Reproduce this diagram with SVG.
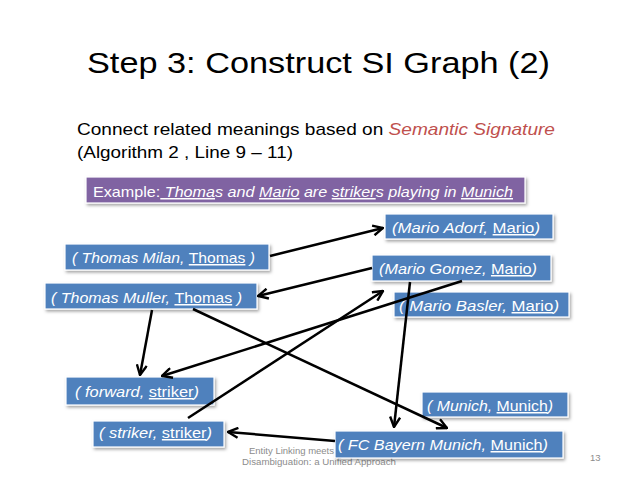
<svg xmlns="http://www.w3.org/2000/svg" width="638" height="479" viewBox="0 0 638 479">
<style>
.title{font-family:"Liberation Sans",Arial,sans-serif;font-size:29px;fill:#000}
.body{font-family:"Liberation Sans",Arial,sans-serif;font-size:17px;fill:#000}
.foot{font-family:"Liberation Sans",Arial,sans-serif;font-size:9.5px;fill:#8c8c8c}
.box{fill:#4f81bd;stroke:#fff;stroke-width:1.2;filter:url(#sh)}
.pbox{fill:#8064a2;stroke:#fff;stroke-width:1.2;filter:url(#sh)}
.nt{font-family:"Liberation Sans",Arial,sans-serif;font-size:15px;fill:#fff;font-style:italic}
.up{font-style:normal}
.u{font-style:normal;text-decoration:underline}
.ui{font-style:italic;text-decoration:underline}
.ed{fill:none;stroke:#000;stroke-width:2.5;marker-end:url(#ah)}
</style>
<defs>
<filter id="sh" x="-10%" y="-30%" width="120%" height="170%">
<feDropShadow dx="1.5" dy="2" stdDeviation="1.5" flood-color="#000" flood-opacity="0.35"/>
</filter>
<marker id="ah" viewBox="0 0 12 12" refX="11" refY="6" markerWidth="12" markerHeight="12" markerUnits="userSpaceOnUse" orient="auto">
<path d="M1,1 L11,6 L1,11" fill="none" stroke="#000" stroke-width="2.4"/>
</marker>
</defs>
<rect width="638" height="479" fill="#fff"/>
<text class="title" x="87" y="73" textLength="463" lengthAdjust="spacingAndGlyphs">Step 3: Construct SI Graph (2)</text>
<text class="body" x="77" y="135" textLength="478" lengthAdjust="spacingAndGlyphs">Connect related meanings based on <tspan font-style="italic" fill="#c0504d">Semantic Signature</tspan></text>
<text class="body" x="77" y="158" textLength="216" lengthAdjust="spacingAndGlyphs">(Algorithm 2 , Line 9 – 11)</text>
<text class="foot" x="249" y="454">Entity Linking meets</text>
<text class="foot" x="242" y="465" textLength="154" lengthAdjust="spacingAndGlyphs">Disambiguation: a Unified Approach</text>
<text class="foot" x="590" y="461">13</text>
<g id="example">
<rect class="pbox" x="86" y="177" width="439" height="26"/>
<text class="nt" x="93" y="197" textLength="420" lengthAdjust="spacingAndGlyphs"><tspan class="up">Example:</tspan><tspan class="ui"> Thoma</tspan>s and <tspan class="ui">Mario</tspan> are <tspan class="ui">striker</tspan>s playing in <tspan class="ui">Munich</tspan></text>
</g>
<g id="thomas-milan">
<rect class="box" x="65" y="244" width="204" height="26"/>
<text class="nt" x="72" y="263" textLength="183" lengthAdjust="spacingAndGlyphs">( Thomas Milan, <tspan class="u">Thomas</tspan> )</text>
</g>
<g id="thomas-muller">
<rect class="box" x="45" y="283" width="212" height="26"/>
<text class="nt" x="51" y="303" textLength="191" lengthAdjust="spacingAndGlyphs">( Thomas Muller, <tspan class="u">Thomas</tspan> )</text>
</g>
<g id="mario-adorf">
<rect class="box" x="385" y="214" width="168" height="25"/>
<text class="nt" x="392" y="233" textLength="148" lengthAdjust="spacingAndGlyphs">(Mario Adorf, <tspan class="u">Mario</tspan>)</text>
</g>
<g id="mario-gomez">
<rect class="box" x="372" y="255" width="179" height="26"/>
<text class="nt" x="379" y="274" textLength="158" lengthAdjust="spacingAndGlyphs">(Mario Gomez, <tspan class="u">Mario</tspan>)</text>
</g>
<g id="mario-basler">
<rect class="box" x="394" y="292" width="175" height="25"/>
<text class="nt" x="399" y="311" textLength="160" lengthAdjust="spacingAndGlyphs">( Mario Basler, <tspan class="u">Mario</tspan>)</text>
</g>
<g id="forward">
<rect class="box" x="66" y="377" width="148" height="28"/>
<text class="nt" x="75" y="397" textLength="124" lengthAdjust="spacingAndGlyphs">( forward, <tspan class="u">striker</tspan>)</text>
</g>
<g id="striker">
<rect class="box" x="93" y="421" width="131" height="26"/>
<text class="nt" x="99" y="438" textLength="113" lengthAdjust="spacingAndGlyphs">( striker, <tspan class="u">striker</tspan>)</text>
</g>
<g id="munich">
<rect class="box" x="422" y="392" width="146" height="25"/>
<text class="nt" x="427" y="411" textLength="126" lengthAdjust="spacingAndGlyphs">( Munich, <tspan class="u">Munich</tspan>)</text>
</g>
<g id="fc-bayern">
<rect class="box" x="335" y="431" width="228" height="27"/>
<text class="nt" x="338" y="450" textLength="210" lengthAdjust="spacingAndGlyphs">( FC Bayern Munich, <tspan class="u">Munich</tspan>)</text>
</g>
<g id="connectors">
<path class="ed" d="M270,256 L383,228"/>
<path class="ed" d="M372,268 L258,296"/>
<path class="ed" d="M152,310 L140,375"/>
<path class="ed" d="M462,281 L162,376"/>
<path class="ed" d="M188,418 L383,291"/>
<path class="ed" d="M410,282 L394,427"/>
<path class="ed" d="M193,309 L447,428"/>
<path class="ed" d="M335,441 L228,432"/>
</g>
</svg>
